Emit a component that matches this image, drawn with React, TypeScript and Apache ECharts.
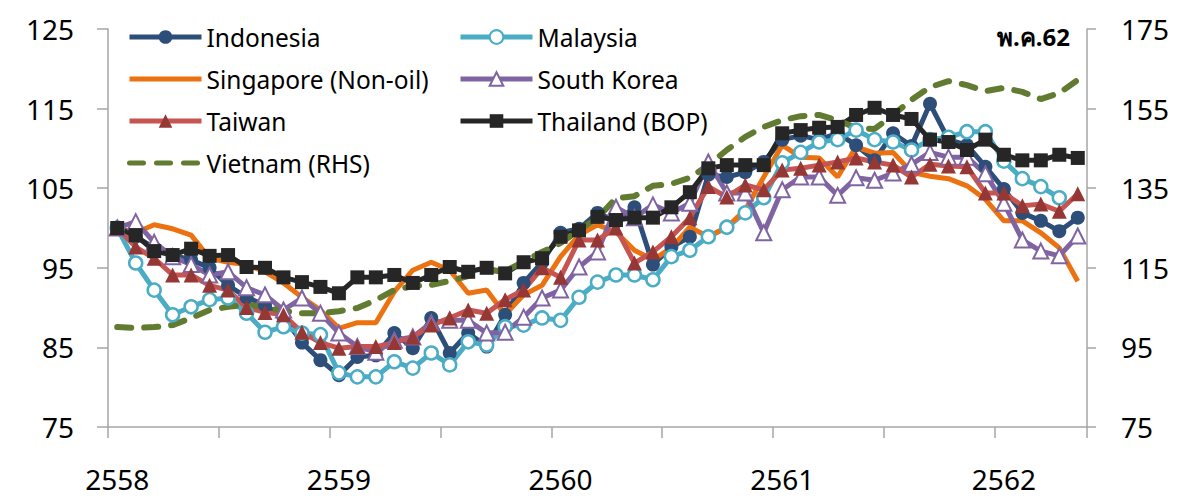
import React, { useEffect, useRef } from 'react';
import * as echarts from 'echarts';

// ---- categories (monthly, Jan 2558 .. May 2562) ----
const years = ['2558', '2559', '2560', '2561', '2562'];
const monthsInLastYear = 5;
const categories: string[] = [];
years.forEach((y, yi) => {
  const n = yi === years.length - 1 ? monthsInLastYear : 12;
  for (let m = 1; m <= n; m++) categories.push(`${y}-${m}`);
});

// ---- tick settings ----
const leftMin = 75, leftMax = 125, leftStep = 10;
const rightMin = 75, rightMax = 175, rightStep = 20;
const periodLabel = 'พ.ค.62';

// ---- series values (left axis, index) ----
const indonesia = [100.0, 98.9, 97.5, 96.6, 96.0, 95.0, 92.8, 91.3, 90.3, 88.8,
  85.6, 83.4, 81.5, 83.8, 84.0, 86.8, 84.9, 88.7, 84.3, 86.8,
  85.1, 89.1, 93.1, 95.7, 99.4, 99.9, 101.9, 100.8, 102.6, 95.4,
  97.6, 98.9, 106.7, 106.4, 107.0, 108.3, 111.1, 111.6, 111.1, 111.9,
  110.4, 108.5, 111.9, 110.3, 115.6, 111.1, 110.4, 107.7, 104.9, 101.9,
  100.9, 99.6, 101.3];
const malaysia = [100.0, 95.6, 92.2, 89.1, 90.1, 91.0, 91.2, 89.3, 86.9, 87.6,
  86.8, 86.6, 81.8, 81.3, 81.3, 83.2, 82.4, 84.3, 82.8, 85.7,
  85.3, 87.6, 87.8, 88.7, 88.4, 91.3, 93.2, 94.1, 94.1, 93.5,
  96.4, 97.2, 98.9, 100.1, 101.9, 103.8, 108.2, 109.5, 110.8, 111.1,
  112.3, 111.1, 110.8, 109.8, 111.1, 111.4, 112.1, 112.1, 108.4, 106.2,
  105.2, 103.8, null];
const singapore = [100.0, 99.4, 100.4, 99.9, 99.1, 96.2, 95.7, 95.4, 94.5, 93.1,
  91.3, 89.7, 87.4, 88.1, 88.1, 92.0, 94.7, 95.7, 94.7, 91.8,
  92.2, 89.1, 91.6, 92.8, 96.4, 99.1, 100.4, 99.5, 97.2, 96.0,
  97.5, 100.1, 98.9, 100.1, 102.3, 106.4, 110.4, 108.9, 108.8, 106.4,
  110.2, 109.4, 109.5, 107.0, 106.5, 106.2, 105.3, 103.6, 100.9, 100.9,
  99.4, 97.5, 93.3];
const southKorea = [100.0, 100.8, 98.2, 96.4, 95.4, 94.1, 94.5, 92.5, 91.6, 89.7,
  91.2, 89.3, 86.8, 85.1, 84.4, 85.9, 86.3, 88.1, 88.4, 88.4,
  86.8, 86.9, 88.8, 91.2, 92.2, 95.1, 97.0, 102.6, 101.3, 102.9,
  101.9, 103.1, 108.3, 104.4, 104.4, 99.4, 104.8, 106.4, 106.4, 104.1,
  106.3, 106.0, 106.9, 108.0, 109.5, 108.9, 108.9, 106.8, 103.1, 98.5,
  97.1, 96.5, 99.0];
const taiwan = [100.0, 97.6, 96.2, 94.1, 94.1, 92.8, 92.2, 90.0, 89.4, 89.1,
  86.9, 85.6, 84.9, 85.1, 85.1, 85.6, 86.3, 87.8, 88.7, 89.7,
  89.3, 91.0, 92.2, 95.0, 93.8, 98.5, 98.5, 100.0, 95.6, 97.0,
  98.9, 101.3, 105.2, 103.9, 105.4, 104.8, 107.3, 107.5, 107.9, 108.3,
  108.8, 108.3, 107.9, 106.4, 108.0, 107.8, 107.7, 104.4, 104.4, 102.8,
  103.0, 102.1, 104.3];
const thailand = [100.0, 99.1, 97.1, 96.6, 97.4, 96.5, 96.6, 95.1, 95.0, 93.8,
  93.2, 92.6, 91.8, 93.8, 93.8, 94.1, 93.1, 94.1, 95.1, 94.5,
  95.0, 94.3, 95.7, 96.2, 98.9, 99.7, 101.4, 101.0, 101.3, 101.3,
  102.6, 104.5, 107.5, 107.9, 107.9, 107.9, 111.9, 112.3, 112.6, 112.7,
  114.2, 115.1, 114.2, 113.7, 111.1, 110.8, 109.8, 111.1, 109.2, 108.5,
  108.5, 109.2, 108.8];
// right axis
const vietnam = [100.1, 99.9, 100.1, 100.6, 102.4, 104.4, 105.2, 105.7, 105.2, 104.1,
  103.6, 103.6, 104.1, 104.9, 106.9, 109.4, 110.4, 110.7, 111.7, 112.9,
  114.4, 114.2, 116.5, 119.0, 121.2, 124.5, 127.5, 132.5, 133.0, 135.6,
  136.1, 137.6, 140.8, 144.6, 147.9, 150.4, 152.1, 153.1, 153.4, 152.1,
  150.1, 149.9, 153.4, 157.2, 160.4, 161.9, 160.9, 159.4, 160.2, 159.2,
  157.4, 158.9, 162.2];

const FONT = '"Noto Sans", "DejaVu Sans", sans-serif';
const AXIS_COLOR = '#A6A6A6';

export default function App() {
  const ref = useRef<HTMLDivElement>(null);
  useEffect(() => {
    if (!ref.current) return;
    const chart = echarts.init(ref.current, undefined, { renderer: 'svg' });

    const lineSeries = (
      name: string, data: (number | null)[], lineColor: string,
      symbol: string, symbolSize: number, fill: string, border: string, borderWidth: number
    ) => ({
      type: 'line', name, data, symbol, symbolSize, showAllSymbol: true,
      yAxisIndex: 0,
      lineStyle: { color: lineColor, width: 5 },
      itemStyle: { color: fill, borderColor: border, borderWidth },
    });

    const axisLabelStyle = { fontSize: 28, color: '#000', fontFamily: FONT };
    const legendBase = {
      orient: 'vertical', top: 22, padding: 0, itemWidth: 72, itemHeight: 17, itemGap: 12,
      textStyle: { fontSize: 24.5, lineHeight: 30, color: '#000', fontFamily: FONT },
      lineStyle: { width: 5 },
    };
    const noMarker = { opacity: 0 };

    chart.setOption({
      animation: false,
      grid: { left: 108, right: 91, top: 29, bottom: 71, containLabel: false },
      legend: [
        {
          ...legendBase, left: 127,
          data: [
            'Indonesia',
            { name: 'Singapore (Non-oil)', itemStyle: noMarker },
            'Taiwan',
            { name: 'Vietnam (RHS)', itemStyle: noMarker },
          ],
        },
        {
          ...legendBase, left: 458,
          data: ['Malaysia', 'South Korea', 'Thailand (BOP)'],
        },
      ],
      xAxis: {
        type: 'category', data: categories, boundaryGap: true,
        axisLine: { lineStyle: { color: AXIS_COLOR, width: 1.5 } },
        axisTick: { show: true, interval: (i: number) => i % 6 === 0, length: 11, lineStyle: { color: AXIS_COLOR, width: 1.5 } },
        axisLabel: {
          ...axisLabelStyle, margin: 38,
          interval: (i: number) => i % 12 === 0,
          formatter: (v: string) => v.split('-')[0],
        },
        splitLine: { show: false },
      },
      yAxis: [
        {
          type: 'value', min: leftMin, max: leftMax, interval: leftStep, position: 'left',
          axisLine: { show: true, lineStyle: { color: AXIS_COLOR, width: 1.5 } },
          axisTick: { show: true, length: 11, lineStyle: { color: AXIS_COLOR, width: 1.5 } },
          axisLabel: { ...axisLabelStyle, margin: 34 },
          splitLine: { show: false },
        },
        {
          type: 'value', min: rightMin, max: rightMax, interval: rightStep, position: 'right',
          axisLine: { show: true, lineStyle: { color: AXIS_COLOR, width: 1.5 } },
          axisTick: { show: true, length: 9, lineStyle: { color: AXIS_COLOR, width: 1.5 } },
          axisLabel: { ...axisLabelStyle, margin: 34 },
          splitLine: { show: false },
        },
      ],
      graphic: [
        {
          type: 'text', right: 108, top: 24,
          style: { text: periodLabel, font: `bold 24px ${FONT}`, fill: '#000' },
        },
      ],
      series: [
        lineSeries('Indonesia', indonesia, '#2C4E79', 'circle', 14, '#2C4E79', '#2C4E79', 0),
        lineSeries('Malaysia', malaysia, '#4BACC6', 'circle', 13, '#FFFFFF', '#4BACC6', 2.5),
        lineSeries('Singapore (Non-oil)', singapore, '#EC7211', 'none', 1, '#EC7211', '#EC7211', 0),
        lineSeries('South Korea', southKorea, '#8064A2', 'triangle', 15, '#FFFFFF', '#8064A2', 2),
        lineSeries('Taiwan', taiwan, '#C65451', 'triangle', 15, '#953735', '#953735', 0),
        lineSeries('Thailand (BOP)', thailand, '#262626', 'rect', 14, '#262626', '#262626', 0),
        {
          type: 'line', name: 'Vietnam (RHS)', data: vietnam, yAxisIndex: 1, symbol: 'none',
          lineStyle: { color: '#617B30', width: 6, type: [14, 13], cap: 'round' },
          itemStyle: { color: '#617B30' },
        },
      ],
    });
    return () => chart.dispose();
  }, []);
  return <div ref={ref} style={{ position: 'absolute', left: 0, top: 0, width: 1178, height: 498 }} />;
}
